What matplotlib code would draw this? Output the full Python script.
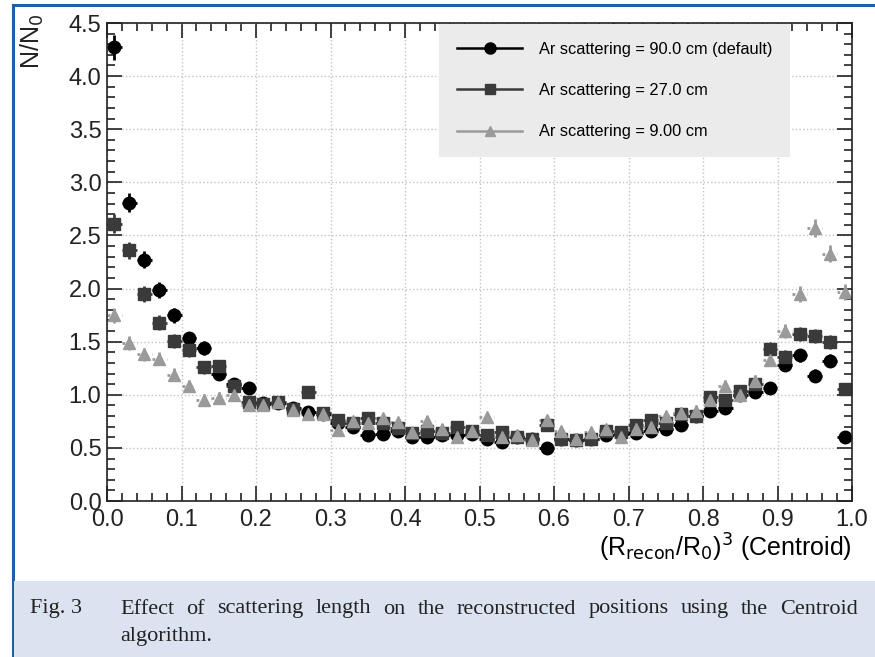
import numpy as np
import matplotlib.pyplot as plt
from matplotlib.lines import Line2D
from matplotlib.patches import Rectangle
from matplotlib.ticker import MultipleLocator, FormatStrFormatter

# ---- data: bin centers of (R_recon/R_0)^3 ----
x_bins = np.arange(0.01, 1.0, 0.02)

n_90cm = [4.27, 2.81, 2.27, 1.99, 1.75, 1.53, 1.44, 1.20, 1.10, 1.06,
          0.92, 0.92, 0.88, 0.84, 0.82, 0.73, 0.70, 0.62, 0.63, 0.66,
          0.60, 0.60, 0.62, 0.62, 0.63, 0.58, 0.56, 0.60, 0.58, 0.50,
          0.58, 0.57, 0.58, 0.62, 0.63, 0.64, 0.66, 0.68, 0.72, 0.80,
          0.85, 0.88, 1.00, 1.03, 1.06, 1.28, 1.37, 1.18, 1.32, 0.60]

n_27cm = [2.61, 2.36, 1.95, 1.68, 1.51, 1.42, 1.26, 1.27, 1.08, 0.93,
          0.91, 0.93, 0.87, 1.03, 0.83, 0.76, 0.73, 0.78, 0.73, 0.69,
          0.64, 0.66, 0.64, 0.70, 0.66, 0.62, 0.65, 0.60, 0.58, 0.72,
          0.58, 0.57, 0.58, 0.66, 0.65, 0.72, 0.76, 0.73, 0.82, 0.80,
          0.98, 0.95, 1.04, 1.10, 1.43, 1.36, 1.57, 1.55, 1.50, 1.05]

n_9cm = [1.75, 1.49, 1.38, 1.34, 1.19, 1.08, 0.95, 0.97, 1.00, 0.90,
         0.90, 0.93, 0.86, 0.82, 0.82, 0.67, 0.75, 0.73, 0.78, 0.74,
         0.65, 0.75, 0.68, 0.60, 0.66, 0.79, 0.60, 0.62, 0.57, 0.76,
         0.66, 0.58, 0.65, 0.68, 0.60, 0.68, 0.70, 0.80, 0.83, 0.85,
         0.95, 1.08, 1.00, 1.13, 1.33, 1.60, 1.95, 2.57, 2.33, 1.97]

labels = ["Ar scattering = 90.0 cm (default)",
          "Ar scattering = 27.0 cm",
          "Ar scattering = 9.00 cm"]

caption_line1 = "Effect of scattering length on the reconstructed positions using the Centroid"
caption_line2 = "algorithm."

plt.rcParams["font.family"] = ["Liberation Sans", "DejaVu Sans"]

fig = plt.figure(figsize=(8.75, 6.57), dpi=100)

# blue frame and caption band
fig.patches.append(Rectangle((13 / 875, 0), 1.0, 1 - 5 / 657, transform=fig.transFigure,
                             facecolor="none", edgecolor="#1f5fa6", linewidth=2.2, zorder=0))
fig.patches.append(Rectangle((14 / 875, 0), 1.0, 76 / 657, transform=fig.transFigure,
                             facecolor="#dce3f0", edgecolor="none", zorder=0))

ax = fig.add_axes([107 / 875, 1 - 501 / 657, 745 / 875, 478 / 657])

series = [
    (n_90cm, "o", "#000000", 9, "-"),
    (n_27cm, "s", "#3a3a3a", 8, "-"),
    (n_9cm, "^", "#9a9a9a", 8, ":"),
]
for vals, mk, col, ms, ls in series:
    vals = np.array(vals)
    yerr = 0.035 + 0.02 * vals
    eb = ax.errorbar(x_bins, vals, xerr=0.01, yerr=yerr, fmt=mk, color=col, ms=ms,
                     elinewidth=2, capsize=0, mec=col, mfc=col)
    eb[2][0].set_linestyle(ls)

ax.set_xlim(0, 1.0)
ax.set_ylim(0, 4.5)
ax.xaxis.set_major_locator(MultipleLocator(0.1))
ax.xaxis.set_minor_locator(MultipleLocator(0.02))
ax.yaxis.set_major_locator(MultipleLocator(0.5))
ax.yaxis.set_minor_locator(MultipleLocator(0.1))
ax.xaxis.set_major_formatter(FormatStrFormatter("%.1f"))
ax.yaxis.set_major_formatter(FormatStrFormatter("%.1f"))
ax.tick_params(which="both", direction="in", top=True, right=True, labelsize=17,
               width=1.2, colors="#222222")
ax.tick_params(which="major", length=11)
ax.tick_params(which="minor", length=6)
ax.tick_params(axis="x", pad=6)
ax.tick_params(axis="y", pad=4)
ax.grid(True, which="major", color="#c4c4c4", linestyle=":", linewidth=1)
for sp in ax.spines.values():
    sp.set_linewidth(1.2)
    sp.set_color("#222222")

# y title, ROOT style, at the top left
fig.text(19 / 875, 1 - 14 / 657, r"N/N$_0$", fontsize=18, rotation=90,
         ha="left", va="top", color="#222222")
ax.set_xlabel(r"(R$_{\rm recon}$/R$_0$)$^3$ (Centroid)", fontsize=18, loc="right", labelpad=0)

handles = [Line2D([], [], color=c, marker=m, ms=s - 1, lw=1.8) for _, m, c, s, _ in series]
leg = ax.legend(handles, labels, loc="upper right", bbox_to_anchor=(0.917, 0.998),
                borderaxespad=0, fontsize=11.8, frameon=True, facecolor="#ebebeb",
                edgecolor="none", fancybox=False, framealpha=1, handlelength=4.0,
                borderpad=1.1, labelspacing=1.6, handletextpad=1.0)

# caption, first line justified between x=120 and x=858 px
cap_kw = dict(family="Liberation Serif", fontsize=16, va="center", color="#222222")
fig.text(30 / 875, 1 - 609 / 657, "Fig. 3", **cap_kw)
words = caption_line1.split()
renderer = fig.canvas.get_renderer()
texts = [fig.text(0, 1 - 609 / 657, w, **cap_kw) for w in words]
widths = [t.get_window_extent(renderer).width for t in texts]
x0, x1 = 120, 858
gap = (x1 - x0 - sum(widths)) / (len(words) - 1)
xpos = x0
for t, w in zip(texts, widths):
    t.set_x(xpos / 875)
    xpos += w + gap
fig.text(120 / 875, 1 - 637 / 657, caption_line2, **cap_kw)

fig.savefig("out.png", dpi=100)
